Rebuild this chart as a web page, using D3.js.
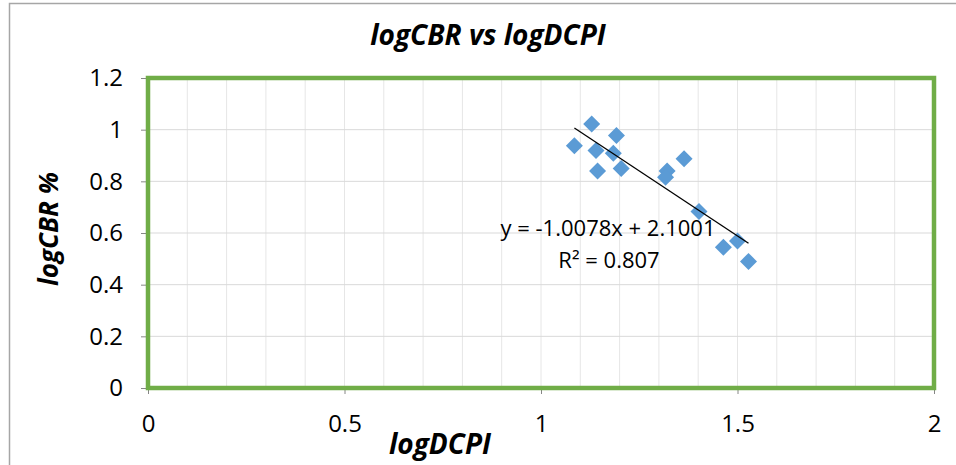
<!DOCTYPE html>
<html>
<head>
<meta charset="utf-8">
<script src="https://cdn.jsdelivr.net/npm/d3@7"></script>
<style>
  body { margin: 0; background: #fff; }
  text { font-family: "Open Sans", "Noto Sans", sans-serif; fill: #000; }
</style>
</head>
<body>
<div id="chart"></div>
<script>
// data
const logDCPI = [1.085, 1.129, 1.192, 1.140, 1.184, 1.144, 1.204, 1.321, 1.317, 1.364, 1.402, 1.464, 1.500, 1.528];
const logCBR  = [0.938, 1.022, 0.977, 0.919, 0.909, 0.840, 0.850, 0.840, 0.816, 0.887, 0.683, 0.545, 0.569, 0.490];
const xTicks = [0, 0.5, 1, 1.5, 2];
const yTicks = [0, 0.2, 0.4, 0.6, 0.8, 1, 1.2];
const slope = -1.0078, intercept = 2.1001, r2 = 0.807;

const width = 956, height = 465;
const margin = { top: 78, right: 22, bottom: 77, left: 148 };

const svg = d3.select("#chart").append("svg")
    .attr("width", width)
    .attr("height", height);

// outer chart frame
svg.append("path")
    .attr("d", `M9.5,${height} V3.5 H${width}`)
    .attr("fill", "none")
    .attr("stroke", "#a6a6a6")
    .attr("stroke-width", 1.5);

const x = d3.scaleLinear().domain([0, 2]).range([margin.left, width - margin.right]);
const y = d3.scaleLinear().domain([0, 1.2]).range([height - margin.bottom, margin.top]);

// vertical minor gridlines
svg.append("g")
    .selectAll("line")
    .data(d3.range(1, 20).map(i => i / 10))
    .enter().append("line")
    .attr("x1", d => x(d)).attr("x2", d => x(d))
    .attr("y1", y(0)).attr("y2", y(1.2))
    .attr("stroke", "#e6e6e6");

// horizontal major gridlines
svg.append("g")
    .selectAll("line")
    .data(yTicks.slice(1, -1))
    .enter().append("line")
    .attr("x1", x(0)).attr("x2", x(2))
    .attr("y1", d => y(d)).attr("y2", d => y(d))
    .attr("stroke", "#d9d9d9");

// axes
const xAxis = svg.append("g")
    .attr("transform", `translate(0,${y(0)})`)
    .call(d3.axisBottom(x).tickValues(xTicks).tickSize(6).tickPadding(21).tickFormat(d3.format("")));
const yAxis = svg.append("g")
    .attr("transform", `translate(${x(0)},0)`)
    .call(d3.axisLeft(y).tickValues(yTicks).tickSize(7).tickPadding(18).tickFormat(d3.format("")));
[xAxis, yAxis].forEach(g => {
    g.select(".domain").remove();
    g.selectAll(".tick line").attr("stroke", "#868686");
    g.selectAll(".tick text").attr("font-size", 24).attr("font-family", "Open Sans").attr("fill", "#000");
});
xAxis.selectAll(".tick text").attr("dy", "0.71em");

// plot area border
svg.append("rect")
    .attr("x", x(0)).attr("y", y(1.2))
    .attr("width", x(2) - x(0)).attr("height", y(0) - y(1.2))
    .attr("fill", "none")
    .attr("stroke", "#70ad47")
    .attr("stroke-width", 4.5);

// points
const pts = logDCPI.map((v, i) => ({ x: v, y: logCBR[i] }));
const r = 8.5;
svg.append("g")
    .selectAll("path")
    .data(pts)
    .enter().append("path")
    .attr("d", d => {
        const cx = x(d.x), cy = y(d.y);
        return `M${cx},${cy - r}L${cx + r},${cy}L${cx},${cy + r}L${cx - r},${cy}Z`;
    })
    .attr("fill", "#5b9bd5");

// linear trendline
const xMin = d3.min(logDCPI), xMax = d3.max(logDCPI);
svg.append("line")
    .attr("x1", x(xMin)).attr("y1", y(slope * xMin + intercept))
    .attr("x2", x(xMax)).attr("y2", y(slope * xMax + intercept))
    .attr("stroke", "#000")
    .attr("stroke-width", 1.3);

svg.append("text")
    .attr("x", 608).attr("y", 236)
    .attr("text-anchor", "middle")
    .attr("font-size", 22)
    .text(`y = ${slope}x + ${intercept.toFixed(4)}`);
svg.append("text")
    .attr("x", 609).attr("y", 268)
    .attr("text-anchor", "middle")
    .attr("font-size", 22)
    .text(`R² = ${r2}`);

// titles
svg.append("text")
    .attr("x", 488).attr("y", 45)
    .attr("text-anchor", "middle")
    .attr("font-size", 28).attr("font-weight", "bold").attr("font-style", "italic")
    .text("logCBR vs logDCPI");
svg.append("text")
    .attr("x", 440).attr("y", 454)
    .attr("text-anchor", "middle")
    .attr("font-size", 28).attr("font-weight", "bold").attr("font-style", "italic")
    .text("logDCPI");
svg.append("text")
    .attr("transform", "translate(58,229) rotate(-90)")
    .attr("text-anchor", "middle")
    .attr("font-size", 26).attr("font-weight", "bold").attr("font-style", "italic")
    .text("logCBR %");
</script>
</body>
</html>
